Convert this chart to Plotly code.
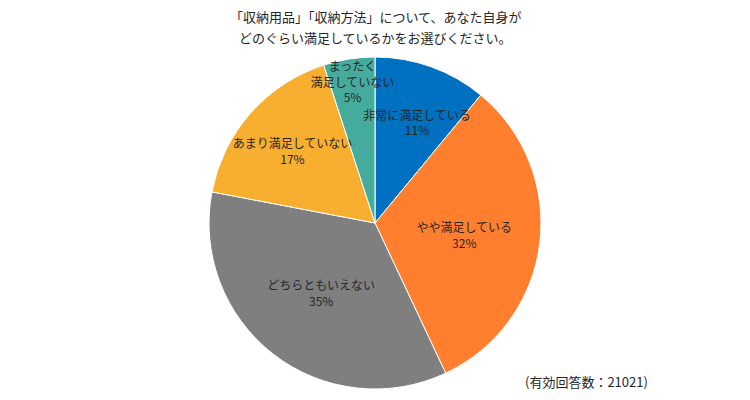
import plotly.graph_objects as go

LABELS = ["非常に満足している", "やや満足している", "どちらともいえない", "あまり満足していない", "まったく<br>満足していない"]
VALUES = [11, 32, 35, 17, 5]
COLORS = ["#0070C0", "#FF7F2F", "#7F7F7F", "#F8AE2E", "#45AC9D"]
TITLE_LINES = ["「収納用品」「収納方法」について、あなた自身が", "どのぐらい満足しているかをお選びください。"]
NOTE = "(有効回答数：21021)"

FONT = "Noto Sans CJK JP"
TEXT_COLOR = "#262626"

# blank first lines nudge the small first slice's label down, off the 5% label
templates = ["%{label}<br>%{value}%"] * len(LABELS)
templates[0] = "\u3000<br>\u3000<br>%{label}<br>%{value}%"

fig = go.Figure()

# coloured slices
fig.add_trace(go.Pie(
    labels=LABELS,
    values=VALUES,
    marker=dict(colors=COLORS, line=dict(color="white", width=1)),
    sort=False,
    direction="clockwise",
    rotation=0,
    textinfo="none",
    hoverinfo="skip",
    showlegend=False,
))

# transparent copy on top so every label sits above all slices
fig.add_trace(go.Pie(
    labels=LABELS,
    values=VALUES,
    marker=dict(colors=["rgba(0,0,0,0)"] * len(LABELS), line=dict(width=0)),
    sort=False,
    direction="clockwise",
    rotation=0,
    texttemplate=templates,
    textposition="inside",
    insidetextorientation="horizontal",
    textfont=dict(family=FONT, size=12, color=TEXT_COLOR),
    hoverinfo="label+percent",
    showlegend=False,
))

annotations = [
    dict(text=line, x=0.5, y=y, xref="paper", yref="paper",
         xanchor="center", yanchor="middle", showarrow=False,
         font=dict(family=FONT, size=13, color=TEXT_COLOR))
    for line, y in zip(TITLE_LINES, [1.1205, 1.060])
]
annotations.append(dict(text=NOTE, x=0.875, y=0.024, xref="paper", yref="paper",
                        xanchor="right", yanchor="middle", showarrow=False,
                        font=dict(family=FONT, size=13, color=TEXT_COLOR)))

# page body adds an 8px margin, so the figure is sized to fit the window
fig.update_layout(
    width=742, height=392,
    margin=dict(l=0, r=8, t=49, b=11),
    paper_bgcolor="white",
    font=dict(family=FONT, color=TEXT_COLOR),
    uniformtext=dict(minsize=12, mode="show"),
    annotations=annotations,
)

fig.write_html("out.html")
